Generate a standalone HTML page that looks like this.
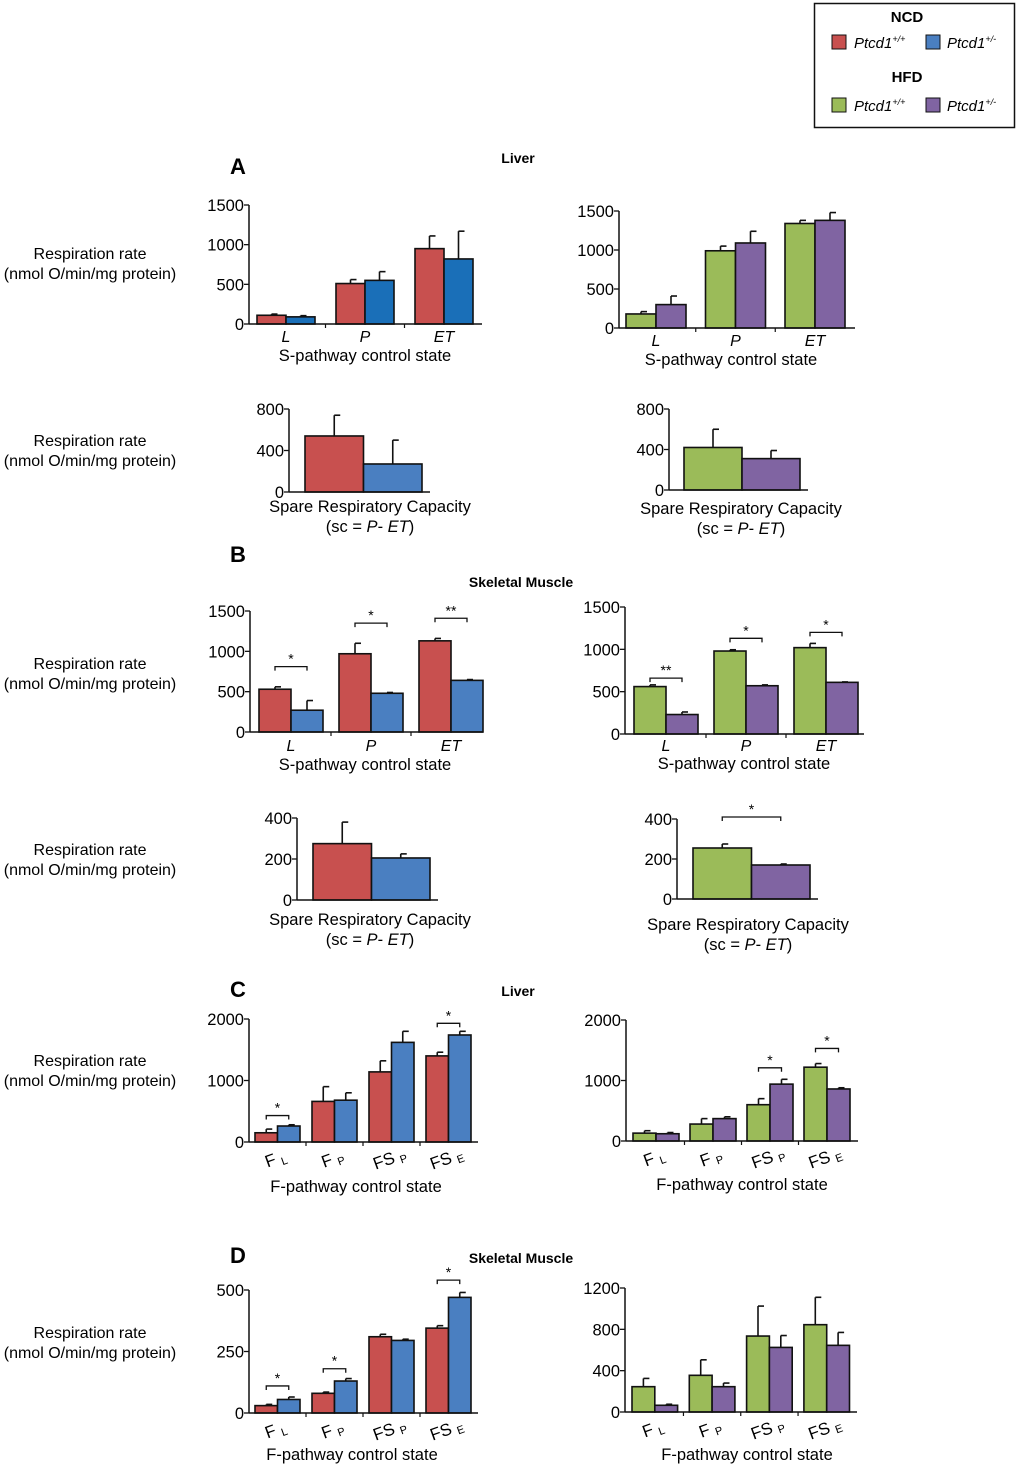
<!DOCTYPE html>
<html><head><meta charset="utf-8">
<style>
body{margin:0;background:#fff;}
svg{display:block;font-family:"Liberation Sans",Arial,sans-serif;}
</style></head>
<body>
<svg id="fig" width="1020" height="1468" viewBox="0 0 1020 1468" xmlns="http://www.w3.org/2000/svg">
  <g>
    <rect x="814.5" y="3.5" width="200" height="124" fill="#fff" stroke="#111" stroke-width="1.5"/>
    <text x="907" y="22" font-size="15" font-weight="bold" text-anchor="middle">NCD</text>
    <rect x="832" y="35" width="14" height="14" fill="#c8504f" stroke="#111"/>
    <text x="854" y="48" font-size="15" font-style="italic">Ptcd1<tspan font-size="9" dy="-6">+/+</tspan></text>
    <rect x="926" y="35" width="14" height="14" fill="#4a7fc1" stroke="#111"/>
    <text x="947" y="48" font-size="15" font-style="italic">Ptcd1<tspan font-size="9" dy="-6">+/-</tspan></text>
    <text x="907" y="82" font-size="15" font-weight="bold" text-anchor="middle">HFD</text>
    <rect x="832" y="98" width="14" height="14" fill="#9bbb59" stroke="#111"/>
    <text x="854" y="111" font-size="15" font-style="italic">Ptcd1<tspan font-size="9" dy="-6">+/+</tspan></text>
    <rect x="926" y="98" width="14" height="14" fill="#8064a2" stroke="#111"/>
    <text x="947" y="111" font-size="15" font-style="italic">Ptcd1<tspan font-size="9" dy="-6">+/-</tspan></text>
  </g>
  <g font-weight="bold">
    <text x="230" y="174" font-size="22">A</text>
    <text x="518" y="163" font-size="14" text-anchor="middle">Liver</text>
    <text x="230" y="562" font-size="22">B</text>
    <text x="521" y="587" font-size="14" text-anchor="middle">Skeletal Muscle</text>
    <text x="230" y="997" font-size="22">C</text>
    <text x="518" y="996" font-size="14" text-anchor="middle">Liver</text>
    <text x="230" y="1263" font-size="22">D</text>
    <text x="521" y="1263" font-size="14" text-anchor="middle">Skeletal Muscle</text>
  </g>
</svg>
<script>
// ---- data ----
const sCats = ["L","P","ET"];
const fCats = ["FL","FP","FSP","FSE"];
const scCats = ["sc"];
const aLiverNcdWt = [110,510,950];   const aLiverNcdWtErr = [15,50,160];
const aLiverNcdHet = [90,550,820];   const aLiverNcdHetErr = [15,110,350];
const aLiverHfdWt = [180,990,1340];  const aLiverHfdWtErr = [30,60,40];
const aLiverHfdHet = [300,1090,1380];const aLiverHfdHetErr = [110,150,100];
const aScNcdWt = [540]; const aScNcdWtErr = [200];
const aScNcdHet = [270]; const aScNcdHetErr = [230];
const aScHfdWt = [420]; const aScHfdWtErr = [180];
const aScHfdHet = [310]; const aScHfdHetErr = [80];
const bMusNcdWt = [530,970,1130];  const bMusNcdWtErr = [30,130,30];
const bMusNcdHet = [270,480,640];  const bMusNcdHetErr = [120,10,10];
const bMusHfdWt = [560,980,1020];  const bMusHfdWtErr = [20,15,50];
const bMusHfdHet = [230,570,610];  const bMusHfdHetErr = [30,10,5];
const bScNcdWt = [275]; const bScNcdWtErr = [105];
const bScNcdHet = [205]; const bScNcdHetErr = [20];
const bScHfdWt = [255]; const bScHfdWtErr = [20];
const bScHfdHet = [170]; const bScHfdHetErr = [5];
const cLiverNcdWt = [150,660,1140,1400];  const cLiverNcdWtErr = [60,240,180,60];
const cLiverNcdHet = [260,680,1620,1740]; const cLiverNcdHetErr = [20,120,180,60];
const cLiverHfdWt = [130,280,600,1220];   const cLiverHfdWtErr = [40,90,100,60];
const cLiverHfdHet = [120,370,940,860];   const cLiverHfdHetErr = [20,30,80,20];
const dMusNcdWt = [30,80,310,345];   const dMusNcdWtErr = [5,5,10,10];
const dMusNcdHet = [55,130,295,470]; const dMusNcdHetErr = [10,10,5,20];
const dMusHfdWt = [245,355,735,845]; const dMusHfdWtErr = [80,150,290,265];
const dMusHfdHet = [65,245,625,645]; const dMusHfdHetErr = [10,35,115,125];
const aTicks1500 = [0,500,1000,1500];
const aTicks800 = [0,400,800];
const bTicks400 = [0,200,400];
const cTicks2000 = [0,1000,2000];
const dTicks500 = [0,250,500];
const dTicks1200 = [0,400,800,1200];

// ---- drawing ----
const NS="http://www.w3.org/2000/svg";
const fig=document.getElementById('fig');
const RED="#c8504f", BLUE="#4a7fc1", BLUE2="#1a6fb8", GREEN="#9bbb59", PURP="#8064a2";
function mk(tag,attrs,parent){const e=document.createElementNS(NS,tag);for(const k in attrs)e.setAttribute(k,attrs[k]);(parent||fig).appendChild(e);return e;}

function ylab(y,name){
  const t=mk('text',{x:90,y:y-4,'font-size':16,'text-anchor':'middle'});
  
  
  t.textContent="Respiration rate";
  const t2=mk('text',{x:90,y:y+16,'font-size':16,'text-anchor':'middle'});
  
  
  t2.textContent="(nmol O/min/mg protein)";
}

function catLabel(g,c,x,y,rot){
  const t=mk('text',{x:x,y:y,'font-size':16,'text-anchor':'middle'},g);
  
  
  if(c==="L"||c==="P"||c==="ET"){t.setAttribute('font-style','italic');t.textContent=c;return;}
  const main=c.startsWith("FS")?"FS":"F", sub=c.slice(main.length);
  t.setAttribute('transform','rotate(-20 '+x+' '+y+')');
  t.setAttribute('font-size','17');
  t.textContent=main+" ";
  const s=mk('tspan',{'font-size':11,dy:3},t); s.textContent=sub;
}

function chart(o){
  const g=mk('g',{});
  
  
  const max=o.ticks[o.ticks.length-1];
  const Y=v=>o.base-(v/max)*(o.base-o.top);
  const X=(i,s)=>o.start+i*o.step+s*o.w;
  o.series.forEach((ser,s)=>{
    ser.vals.forEach((v,i)=>{
      const x=X(i,s), y=Y(v), ye=Y(v+ser.err[i]), cx=x+o.w/2;
      const l=mk('line',{x1:cx,x2:cx,y1:y,y2:ye,stroke:'#111','stroke-width':1.6},g);
      
      
      mk('line',{x1:cx,x2:cx+6,y1:ye,y2:ye,stroke:'#111','stroke-width':1.6},g);
      const r=mk('rect',{x:x,y:y,width:o.w,height:o.base-y,fill:ser.color,stroke:'#111','stroke-width':1.6},g);
      
      
    });
  });
  const ya=mk('line',{x1:o.x0,x2:o.x0,y1:o.top,y2:o.base,stroke:'#111','stroke-width':1.5},g);
  
  
  const xa=mk('line',{x1:o.x0,x2:o.x1,y1:o.base,y2:o.base,stroke:'#111','stroke-width':1.5},g);
  
  
  o.ticks.forEach(t=>{
    const y=Y(t);
    mk('line',{x1:o.x0-5,x2:o.x0,y1:y,y2:y,stroke:'#111','stroke-width':1.3},g);
    const tx=mk('text',{x:o.x0-5,y:y+6,'font-size':16.5,'text-anchor':'end'},g);
    
    
    tx.textContent=t;
  });
  if(o.cats.length>1){
    for(let i=1;i<o.cats.length;i++){const x=o.start+i*o.step-(o.step-2*o.w)/2;mk('line',{x1:x,x2:x,y1:o.base,y2:o.base+4,stroke:'#111','stroke-width':1.2},g);}
    o.cats.forEach((c,i)=>catLabel(g,c,X(i,1),o.base+o.labDy,o.cats.length===4));
  }
  (o.sig||[]).forEach(b=>{
    const x1=X(b.i,0.5), x2=X(b.i2!=null?b.i2:b.i,1.5), y=Y(b.v);
    const p=mk('path',{d:`M${x1},${y+4}V${y}H${x2}V${y+4}`,fill:'none',stroke:'#111','stroke-width':1.3},g);
    
    
    const s=mk('text',{x:(x1+x2)/2,y:y-3,'font-size':14,'text-anchor':'middle'},g);
    
    
    s.textContent=b.t;
  });
  o.title.forEach((t,k)=>{
    const tx=mk('text',{x:o.tx,y:o.base+o.titleDy+k*20,'font-size':16.5,'text-anchor':'middle'},g);
    
    
    if(t==="sc"){tx.textContent="(sc = ";const a=mk('tspan',{'font-style':'italic'},tx);a.textContent="P";const b=mk('tspan',{},tx);b.textContent="- ";const c=mk('tspan',{'font-style':'italic'},tx);c.textContent="ET";const d=mk('tspan',{},tx);d.textContent=")";}
    else tx.textContent=t;
  });
}
const ST=["S-pathway control state"], FT=["F-pathway control state"], SC=["Spare Respiratory Capacity","sc"];

ylab(263,'y-axis-title-a-s'); ylab(450,'y-axis-title-a-sc');
ylab(673,'y-axis-title-b-s'); ylab(859,'y-axis-title-b-sc');
ylab(1070,'y-axis-title-c'); ylab(1342,'y-axis-title-d');

chart({name:'chart-a-liver-ncd',x0:249,x1:482,base:324,top:205,ticks:aTicks1500,cats:sCats,start:257,step:79,w:29,labDy:18,titleDy:37,tx:365,title:ST,
  series:[{key:'ncd-wt',vals:aLiverNcdWt,err:aLiverNcdWtErr,color:RED},{key:'ncd-het',vals:aLiverNcdHet,err:aLiverNcdHetErr,color:BLUE2}]});
chart({name:'chart-a-liver-hfd',x0:619,x1:855,base:328,top:211,ticks:aTicks1500,cats:sCats,start:626,step:79.5,w:30,labDy:18,titleDy:37,tx:731,title:ST,
  series:[{key:'hfd-wt',vals:aLiverHfdWt,err:aLiverHfdWtErr,color:GREEN},{key:'hfd-het',vals:aLiverHfdHet,err:aLiverHfdHetErr,color:PURP}]});
chart({name:'chart-a-sc-ncd',x0:289,x1:430,base:492,top:409,ticks:aTicks800,cats:scCats,start:305,step:120,w:58.5,labDy:18,titleDy:20,tx:370,title:SC,
  series:[{key:'ncd-wt',vals:aScNcdWt,err:aScNcdWtErr,color:RED},{key:'ncd-het',vals:aScNcdHet,err:aScNcdHetErr,color:BLUE}]});
chart({name:'chart-a-sc-hfd',x0:669,x1:808,base:490,top:409,ticks:aTicks800,cats:scCats,start:684,step:120,w:58,labDy:18,titleDy:24,tx:741,title:SC,
  series:[{key:'hfd-wt',vals:aScHfdWt,err:aScHfdWtErr,color:GREEN},{key:'hfd-het',vals:aScHfdHet,err:aScHfdHetErr,color:PURP}]});

chart({name:'chart-b-muscle-ncd',x0:250,x1:483,base:732,top:611,ticks:aTicks1500,cats:sCats,start:259,step:80,w:32,labDy:19,titleDy:38,tx:365,title:ST,
  sig:[{i:0,v:810,t:"*"},{i:1,v:1350,t:"*"},{i:2,v:1410,t:"**"}],
  series:[{key:'ncd-wt',vals:bMusNcdWt,err:bMusNcdWtErr,color:RED},{key:'ncd-het',vals:bMusNcdHet,err:bMusNcdHetErr,color:BLUE}]});
chart({name:'chart-b-muscle-hfd',x0:625,x1:864,base:734,top:607,ticks:aTicks1500,cats:sCats,start:634,step:80,w:32,labDy:17,titleDy:35,tx:744,title:ST,
  sig:[{i:0,v:660,t:"**"},{i:1,v:1130,t:"*"},{i:2,v:1200,t:"*"}],
  series:[{key:'hfd-wt',vals:bMusHfdWt,err:bMusHfdWtErr,color:GREEN},{key:'hfd-het',vals:bMusHfdHet,err:bMusHfdHetErr,color:PURP}]});
chart({name:'chart-b-sc-ncd',x0:297,x1:438,base:900,top:818,ticks:bTicks400,cats:scCats,start:313,step:120,w:58.5,labDy:18,titleDy:25,tx:370,title:SC,
  series:[{key:'ncd-wt',vals:bScNcdWt,err:bScNcdWtErr,color:RED},{key:'ncd-het',vals:bScNcdHet,err:bScNcdHetErr,color:BLUE}]});
chart({name:'chart-b-sc-hfd',x0:677,x1:818,base:899,top:819,ticks:bTicks400,cats:scCats,start:693,step:120,w:58.5,labDy:18,titleDy:31,tx:748,title:SC,
  sig:[{i:0,v:410,t:"*"}],
  series:[{key:'hfd-wt',vals:bScHfdWt,err:bScHfdWtErr,color:GREEN},{key:'hfd-het',vals:bScHfdHet,err:bScHfdHetErr,color:PURP}]});

chart({name:'chart-c-liver-ncd',x0:249,x1:478,base:1142,top:1019,ticks:cTicks2000,cats:fCats,start:255,step:57,w:22.5,labDy:22,titleDy:50,tx:356,title:FT,
  sig:[{i:0,v:430,t:"*"},{i:3,v:1930,t:"*"}],
  series:[{key:'ncd-wt',vals:cLiverNcdWt,err:cLiverNcdWtErr,color:RED},{key:'ncd-het',vals:cLiverNcdHet,err:cLiverNcdHetErr,color:BLUE}]});
chart({name:'chart-c-liver-hfd',x0:626,x1:858,base:1141,top:1020,ticks:cTicks2000,cats:fCats,start:633,step:57,w:23,labDy:22,titleDy:49,tx:742,title:FT,
  sig:[{i:2,v:1210,t:"*"},{i:3,v:1530,t:"*"}],
  series:[{key:'hfd-wt',vals:cLiverHfdWt,err:cLiverHfdWtErr,color:GREEN},{key:'hfd-het',vals:cLiverHfdHet,err:cLiverHfdHetErr,color:PURP}]});

chart({name:'chart-d-muscle-ncd',x0:249,x1:478,base:1413,top:1290,ticks:dTicks500,cats:fCats,start:255,step:57,w:22.5,labDy:22,titleDy:47,tx:352,title:FT,
  sig:[{i:0,v:110,t:"*"},{i:1,v:180,t:"*"},{i:3,v:540,t:"*"}],
  series:[{key:'ncd-wt',vals:dMusNcdWt,err:dMusNcdWtErr,color:RED},{key:'ncd-het',vals:dMusNcdHet,err:dMusNcdHetErr,color:BLUE}]});
chart({name:'chart-d-muscle-hfd',x0:625,x1:857,base:1412,top:1288,ticks:dTicks1200,cats:fCats,start:632,step:57.3,w:22.8,labDy:22,titleDy:48,tx:747,title:FT,
  series:[{key:'hfd-wt',vals:dMusHfdWt,err:dMusHfdWtErr,color:GREEN},{key:'hfd-het',vals:dMusHfdHet,err:dMusHfdHetErr,color:PURP}]});
</script>
</body></html>
